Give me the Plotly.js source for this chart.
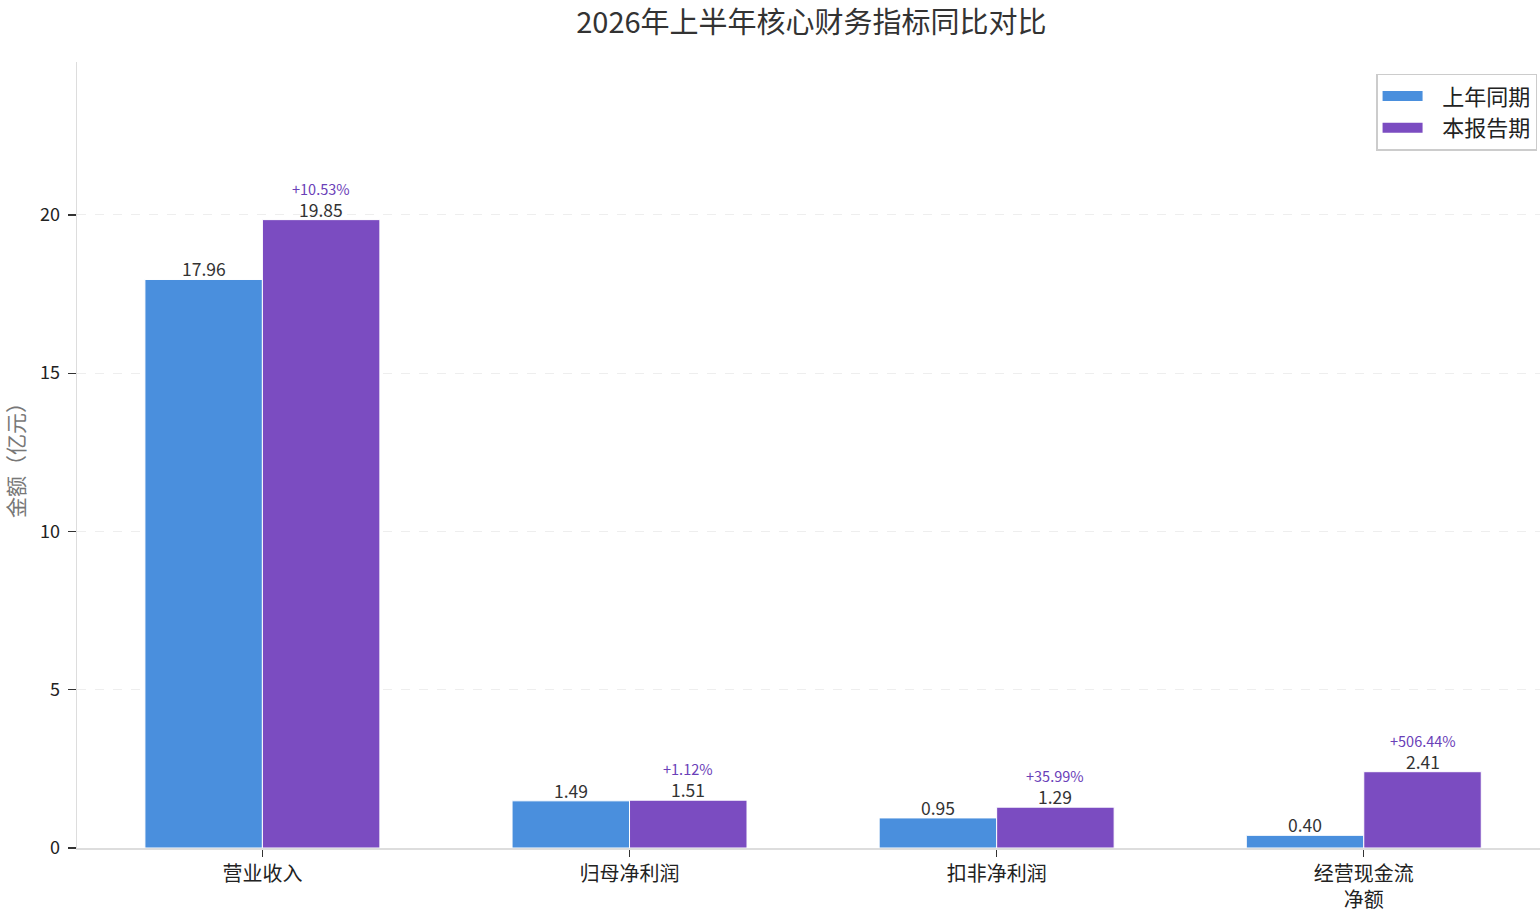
<!DOCTYPE html>
<html>
<head>
<meta charset="utf-8">
<script src="https://cdn.plot.ly/plotly-3.0.1.min.js"></script>
<style>html,body{margin:0;padding:0;background:#fff;overflow:hidden}#chart{width:1540px;height:911px}</style>
</head>
<body>
<div id="chart"></div>
<script>
const categories = ["营业收入", "归母净利润", "扣非净利润", "经营现金流<br>净额"];
const priorValues = [17.96, 1.49, 0.95, 0.40];
const currentValues = [19.85, 1.51, 1.29, 2.41];
const growthLabels = ["+10.53%", "+1.12%", "+35.99%", "+506.44%"];
const seriesNames = ["上年同期", "本报告期"];
const yTicks = [0, 5, 10, 15, 20];

const FONT = '"Noto Sans CJK SC", "Noto Sans", sans-serif';
const blue = '#4A8FDD';
const purple = '#7B4CC1';
const BARW = 0.32;

const traces = [
  {
    type: 'bar', name: seriesNames[0], x: categories, y: priorValues, showlegend: false,
    marker: {color: blue, line: {color: '#ffffff', width: 1}}
  },
  {
    type: 'bar', name: seriesNames[1], x: categories, y: currentValues, showlegend: false,
    marker: {color: purple, line: {color: '#ffffff', width: 1}}
  },
  {
    type: 'scatter', mode: 'lines', name: '\u00a0\u00a0\u00a0' + seriesNames[0], x: [null], y: [null],
    line: {color: blue, width: 14}, showlegend: true
  },
  {
    type: 'scatter', mode: 'lines', name: '\u00a0\u00a0\u00a0' + seriesNames[1], x: [null], y: [null],
    line: {color: purple, width: 14}, showlegend: true
  }
];

const annotations = [];
categories.forEach((c, i) => {
  annotations.push({
    x: i - BARW / 2, xref: 'x', y: priorValues[i], yref: 'y', yshift: -3, borderpad: 0,
    yanchor: 'bottom', xanchor: 'center', showarrow: false,
    text: priorValues[i].toFixed(2),
    font: {family: FONT, size: 17.5, color: '#333333'}
  });
  annotations.push({
    x: i + BARW / 2, xref: 'x', y: currentValues[i], yref: 'y', yshift: -3, borderpad: 0,
    yanchor: 'bottom', xanchor: 'center', showarrow: false,
    text: currentValues[i].toFixed(2),
    font: {family: FONT, size: 17.5, color: '#333333'}
  });
  annotations.push({
    x: i + BARW / 2, xref: 'x', y: currentValues[i], yref: 'y', yshift: 20, borderpad: 0,
    yanchor: 'bottom', xanchor: 'center', showarrow: false,
    text: growthLabels[i],
    font: {family: FONT, size: 14.5, color: '#6a40b8'}
  });
});

const layout = {
  width: 1540, height: 911,
  margin: {l: 77, r: 0, t: 62, b: 63},
  paper_bgcolor: '#ffffff', plot_bgcolor: '#ffffff',
  font: {family: FONT, color: '#333333'},
  title: {text: '2026年上半年核心财务指标同比对比', x: 0.502, xref: 'paper', xanchor: 'center', y: 0.975, yanchor: 'middle',
          font: {family: FONT, size: 29, color: '#333333'}},
  barmode: 'group', bargap: 1 - 2 * BARW, bargroupgap: 0,
  xaxis: {
    type: 'category', range: [-0.505, 3.48],
    showline: true, linecolor: '#dddddd', linewidth: 1.5,
    ticks: 'outside', ticklen: 7, tickcolor: '#333333', tickwidth: 1.3,
    ticklabelstandoff: 0,
    tickfont: {family: FONT, size: 20, color: '#222222'},
    showgrid: false, zeroline: false
  },
  yaxis: {
    range: [0, 24.83], tickvals: yTicks, ticktext: yTicks.map(String),
    showline: true, linecolor: '#dddddd', linewidth: 1.5,
    ticks: 'outside', ticklen: 8, tickcolor: '#333333', tickwidth: 1.3,
    ticklabelstandoff: 4,
    tickfont: {family: FONT, size: 18, color: '#222222'},
    showgrid: true, gridcolor: '#eeeeee', griddash: 'dash', gridwidth: 1,
    zeroline: false,
    title: {text: '金额（亿元）', standoff: 14, font: {family: FONT, size: 21, color: '#777777'}}
  },
  legend: {
    x: 0.998, xanchor: 'right', y: 0.985, yanchor: 'top',
    bgcolor: 'rgba(255,255,255,0.9)', bordercolor: '#cccccc', borderwidth: 1.5,
    font: {family: FONT, size: 22, color: '#222222'},
    itemwidth: 40, tracegroupgap: 2
  },
  annotations: annotations,
  showlegend: true
};

Plotly.newPlot('chart', traces, layout, {displayModeBar: false, staticPlot: true});
</script>
</body>
</html>
